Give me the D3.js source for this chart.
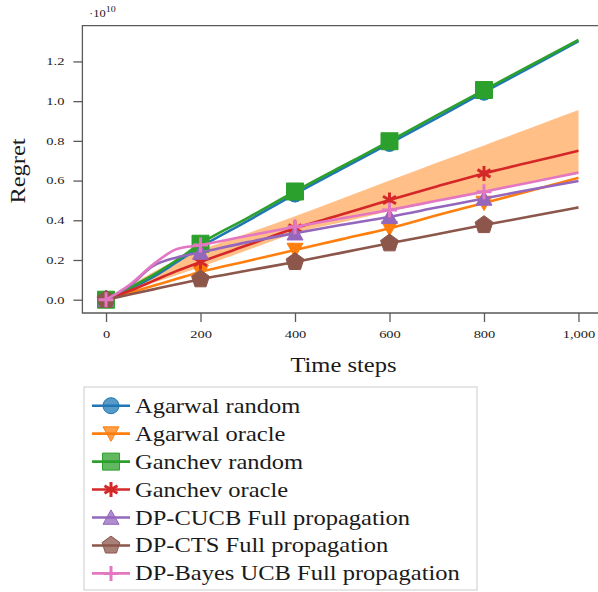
<!DOCTYPE html>
<html>
<head>
<meta charset="utf-8">
<script src="https://cdn.jsdelivr.net/npm/d3@7"></script>
<style>
  html, body { margin: 0; padding: 0; background: #fff; }
  svg { display: block; }
</style>
</head>
<body>
<svg id="chart" width="598" height="592"></svg>
<script>
// ---- data (regret in units of 1e10) ----
const timeSteps = [0, 50, 100, 150, 200, 300, 400, 500, 600, 700, 800, 900, 1000];
const markerSteps = [0, 200, 400, 600, 800];
const agarwalRandom = [0, 0.055, 0.115, 0.19, 0.265, 0.397, 0.532, 0.66, 0.787, 0.915, 1.045, 1.173, 1.302];
const agarwalOracle = [0, 0.035, 0.07, 0.105, 0.14, 0.195, 0.25, 0.305, 0.36, 0.425, 0.487, 0.55, 0.614];
const ganchevRandom = [0, 0.06, 0.125, 0.2, 0.282, 0.412, 0.545, 0.672, 0.798, 0.928, 1.056, 1.182, 1.308];
const ganchevOracle = [0, 0.045, 0.095, 0.145, 0.19, 0.275, 0.36, 0.43, 0.502, 0.57, 0.636, 0.693, 0.75];
const dpCucb = [0, 0.07, 0.17, 0.213, 0.238, 0.29, 0.335, 0.377, 0.418, 0.464, 0.51, 0.555, 0.598];
const dpCts = [0, 0.026, 0.052, 0.078, 0.103, 0.147, 0.19, 0.237, 0.284, 0.33, 0.376, 0.42, 0.465];
const dpBayesUcb = [0, 0.075, 0.178, 0.255, 0.275, 0.322, 0.367, 0.41, 0.452, 0.498, 0.544, 0.592, 0.64];
const bandLower = [0, 0.04, 0.085, 0.125, 0.165, 0.25, 0.335, 0.39, 0.445, 0.495, 0.545, 0.59, 0.635];
const bandUpper = [0, 0.07, 0.14, 0.2, 0.25, 0.335, 0.42, 0.51, 0.6, 0.69, 0.777, 0.866, 0.955];
const xTicks = [0, 200, 400, 600, 800, 1000];
const yTicks = [0, 0.2, 0.4, 0.6, 0.8, 1.0, 1.2];
const seriesNames = ["Agarwal random", "Agarwal oracle", "Ganchev random", "Ganchev oracle",
  "DP-CUCB Full propagation", "DP-CTS Full propagation", "DP-Bayes UCB Full propagation"];
const seriesValues = [agarwalRandom, agarwalOracle, ganchevRandom, ganchevOracle, dpCucb, dpCts, dpBayesUcb];
const seriesColors = ["#1f77b4", "#ff7f0e", "#2ca02c", "#d62728", "#9467bd", "#8c564b", "#e377c2"];
const seriesMarkers = ["circle", "triangleDown", "square", "asterisk", "triangleUp", "pentagon", "plus"];

// ---- layout ----
const FONT = "Liberation Serif";
const TXT = "#1a1a1a";
const svg = d3.select("#chart");
const x = d3.scaleLinear().domain([-50, 1050]).range([82.4, 602.1]);
const y = d3.scaleLinear().domain([-0.067, 1.38]).range([313, 25.7]);
const spineColor = "#5a5a5a";

// band
const area = d3.area()
  .x((d, i) => x(timeSteps[i]))
  .y0((d, i) => y(bandLower[i]))
  .y1((d, i) => y(bandUpper[i]))
  .curve(d3.curveMonotoneX);
svg.append("path").datum(bandLower).attr("d", area)
  .attr("fill", "#ff7f0e").attr("fill-opacity", 0.5);

// markers
function markerPath(type, s) {
  const p = d3.path();
  if (type === "circle") { p.arc(0, 0, s * 0.5, 0, 2 * Math.PI); }
  else if (type === "square") { const h = s * 0.5; p.rect(-h, -h, 2 * h, 2 * h); }
  else if (type === "triangleDown") {
    const h = s * 0.5; p.moveTo(-h, -h * 0.85); p.lineTo(h, -h * 0.85); p.lineTo(0, h * 0.95); p.closePath();
  } else if (type === "triangleUp") {
    const h = s * 0.5; p.moveTo(-h, h * 0.85); p.lineTo(h, h * 0.85); p.lineTo(0, -h * 0.95); p.closePath();
  } else if (type === "pentagon") {
    const r = s * 0.55;
    for (let k = 0; k < 5; k++) {
      const a = -Math.PI / 2 + k * 2 * Math.PI / 5;
      if (k === 0) p.moveTo(r * Math.cos(a), r * Math.sin(a)); else p.lineTo(r * Math.cos(a), r * Math.sin(a));
    }
    p.closePath();
  } else if (type === "plus") {
    const h = s * 0.5; p.moveTo(-h, 0); p.lineTo(h, 0); p.moveTo(0, -h); p.lineTo(0, h);
  } else if (type === "asterisk") {
    const h = s * 0.5;
    for (let k = 0; k < 3; k++) {
      const a = Math.PI / 2 + k * Math.PI / 3;
      p.moveTo(h * Math.cos(a), h * Math.sin(a)); p.lineTo(-h * Math.cos(a), -h * Math.sin(a));
    }
  }
  return p.toString();
}
const markerSize = { circle: 16, square: 17, triangleDown: 16, triangleUp: 16, pentagon: 17, plus: 15, asterisk: 15 };
function drawMarker(g, type, color, cx, cy, fillOpacity) {
  const lineType = (type === "plus" || type === "asterisk");
  g.append("path").attr("d", markerPath(type, markerSize[type]))
    .attr("transform", `translate(${cx},${cy})`)
    .attr("fill", lineType ? "none" : color)
    .attr("fill-opacity", fillOpacity)
    .attr("stroke", color)
    .attr("stroke-width", lineType ? 3 : 1)
    .attr("stroke-linejoin", "miter");
}

const line = d3.line().x((d, i) => x(timeSteps[i])).y(d => y(d)).curve(d3.curveMonotoneX);
seriesValues.forEach((vals, si) => {
  const g = svg.append("g");
  g.append("path").datum(vals).attr("d", line)
    .attr("fill", "none").attr("stroke", seriesColors[si]).attr("stroke-width", 2.6)
    .attr("stroke-linecap", "butt");
  markerSteps.forEach(t => {
    const idx = timeSteps.indexOf(t);
    drawMarker(g, seriesMarkers[si], seriesColors[si], x(t), y(vals[idx]), 1);
  });
});

// spines
const x0 = 82.4, x1 = 602.1, yTop = 25.7, yBot = 313;
svg.append("path").attr("d", `M${x0},${yBot}V${yTop}H${x1}V${yBot}Z`)
  .attr("fill", "none").attr("stroke", spineColor).attr("stroke-width", 1.3);

// axes (labels stretched horizontally to mimic the wide serif face)
const TICK_SX = 1.38;
const xAxis = d3.axisBottom(x).tickValues(xTicks).tickSize(9).tickFormat(d3.format(","));
const gx = svg.append("g").attr("transform", `translate(0,${yBot})`).call(xAxis);
const yAxis = d3.axisLeft(y).tickValues(yTicks).tickSize(9).tickFormat(d3.format(".1f"));
const gy = svg.append("g").attr("transform", `translate(${x0},0)`).call(yAxis);
[gx, gy].forEach(g => {
  g.attr("font-family", FONT);
  g.select(".domain").remove();
  g.selectAll(".tick line").attr("stroke", spineColor).attr("stroke-width", 1.3);
  g.selectAll(".tick text").attr("font-family", FONT)
    .attr("font-size", 10.5).attr("fill", TXT)
    .attr("transform", `scale(${TICK_SX},1)`);
});
gx.selectAll(".tick text").attr("x", 0).attr("y", 24.7).attr("dy", 0);
gy.selectAll(".tick text").attr("x", -18 / TICK_SX).attr("dy", "0.32em");

// multiplier
const mult = svg.append("text").attr("transform", "translate(89,17) scale(1.25,1)")
  .attr("font-size", 10).attr("font-family", FONT).attr("fill", TXT);
mult.append("tspan").text("·10");
mult.append("tspan").attr("dy", -5).attr("font-size", 8).text("10");

// axis labels
svg.append("text").attr("transform", "translate(343.5,372) scale(1.17,1)").attr("text-anchor", "middle")
  .attr("font-family", FONT).attr("fill", TXT).attr("font-size", 21).text("Time steps");
svg.append("text").attr("transform", "translate(25,171) rotate(-90) scale(1.16,1)").attr("text-anchor", "middle")
  .attr("font-family", FONT).attr("fill", TXT).attr("font-size", 21).text("Regret");

// legend
const leg = svg.append("g");
leg.append("rect").attr("x", 84).attr("y", 387).attr("width", 393).attr("height", 203)
  .attr("fill", "#fff").attr("fill-opacity", 0.8).attr("stroke", "#cccccc").attr("stroke-width", 1);
seriesNames.forEach((name, si) => {
  const cy = 405.7 + si * 27.95;
  leg.append("line").attr("x1", 92).attr("x2", 130).attr("y1", cy).attr("y2", cy)
    .attr("stroke", seriesColors[si]).attr("stroke-width", 2.6);
  drawMarker(leg, seriesMarkers[si], seriesColors[si], 111, cy, 0.75);
  leg.append("text").attr("transform", `translate(135,${cy + 7}) scale(1.115,1)`)
    .attr("font-size", 22).attr("font-family", FONT).attr("fill", TXT).text(name);
});
</script>
</body>
</html>
